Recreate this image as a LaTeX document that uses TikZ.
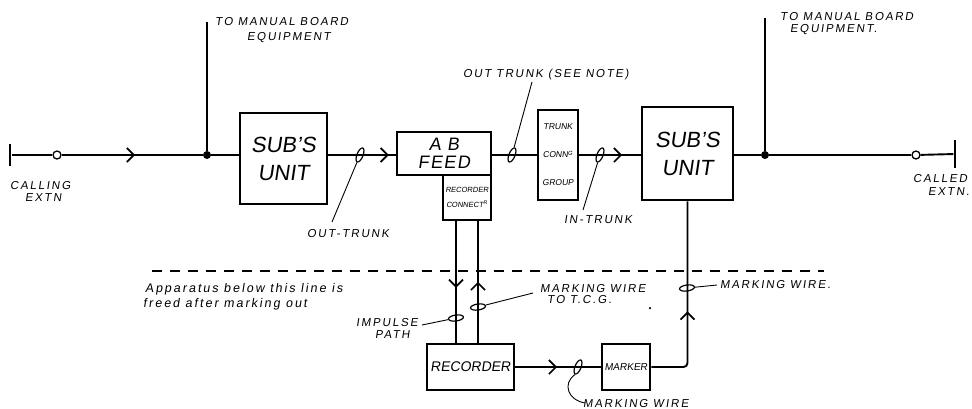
\documentclass[tikz,border=0pt]{standalone}
\usepackage{fontspec}
\setmainfont{Liberation Sans}
\newfontfamily\hand[FakeSlant=0.15]{Liberation Sans}
\newfontfamily\handw[FakeSlant=0.15,LetterSpace=16]{Liberation Sans}
\newfontfamily\handm[FakeSlant=0.15,LetterSpace=8]{Liberation Sans}
\usetikzlibrary{arrows.meta,decorations.markings,shapes.geometric}
\begin{document}
\begin{tikzpicture}[x=1pt,y=-1pt,
  wire/.style={line width=1.9pt},
  thinwire/.style={line width=1.2pt},
  leader/.style={line width=0.9pt},
  box/.style={draw,line width=2.8pt,inner sep=0pt,align=center},
  tick/.style={draw,ellipse,line width=1.2pt,inner sep=0pt,minimum width=6pt,minimum height=15pt,rotate=-22},
  vtick/.style={tick,rotate=-60},
  midarrow/.style={postaction={decorate},decoration={markings,mark=at position #1 with {\arrow{Straight Barb[length=7pt,width=14pt,line width=1.7pt]}}}},
  lbl/.style={anchor=base west,inner sep=0pt,font=\handw\fontsize{11.5}{13}\selectfont},
  dotnode/.style={circle,fill,inner sep=0pt,minimum size=8pt},
  ring/.style={circle,draw,fill=white,line width=1.3pt,inner sep=0pt,minimum size=8pt},
  endbar/.style={fill,inner sep=0pt,minimum width=2.8pt},
]
\useasboundingbox (0,0) rectangle (972,408);

% main line nodes
\node[endbar,minimum height=22pt] (lbar) at (10,155) {};
\node[ring] (lring) at (57,155) {};
\node[dotnode] (j1) at (207,155) {};
\coordinate (t1) at (207,22);
\node[box,minimum width=87pt,minimum height=91pt,font=\hand\fontsize{22}{28}\selectfont] (sub1) at (283.5,158.5) {SUB’S\\UNIT};
\node[box,minimum width=94pt,minimum height=43pt,font=\handm\fontsize{18}{18}\selectfont] (feed) at (444,153.5) {A B\\FEED};
\node[box,line width=2pt,minimum width=48pt,minimum height=45pt,font=\hand\fontsize{7.5}{15}\selectfont] (rconn) at (467,197.5) {RECORDER\\CONNECT\textsuperscript{R}};
\node[box,line width=2.2pt,minimum width=40pt,minimum height=90pt,font=\hand\fontsize{8.5}{28}\selectfont] (tcg) at (558,155) {TRUNK\\CONN\textsuperscript{G}\\GROUP};
\node[box,minimum width=91pt,minimum height=93pt,font=\hand\fontsize{22}{28}\selectfont] (sub2) at (687.5,153.5) {SUB’S\\UNIT};
\node[dotnode] (j2) at (765,155) {};
\coordinate (t2) at (765,18);
\node[ring] (rring) at (916,155) {};
\node[endbar,minimum height=28pt] (rbar) at (955,154) {};

\node[box,minimum width=87pt,minimum height=46pt,font=\hand\fontsize{14}{16}\selectfont] (rec) at (470.5,367) {RECORDER};
\node[box,minimum width=48pt,minimum height=46pt,font=\hand\fontsize{10}{12}\selectfont] (marker) at (626,367) {MARKER};

% main wires
\draw[wire] (lbar) -- (lring);
\draw[wire,midarrow=0.52] (lring) -- (j1);
\draw[wire] (j1) -- (j1 -| sub1.west);
\draw[thinwire] (j1) -- (t1);
\draw[wire,midarrow=0.9] (sub1.east |- j1) -- (feed.west |- j1);
\draw[wire] (feed.east |- j1) -- (tcg.west |- j1);
\draw[wire,midarrow=0.7] (tcg.east |- j1) -- (sub2.west |- j1);
\draw[wire] (sub2.east |- j1) -- (j2);
\draw[thinwire] (j2) -- (t2);
\draw[wire] (j2) -- (rring);
\draw[wire] (rring) -- (rbar);

% lower wires
\draw[wire,midarrow=0.55] ([xshift=-11pt]rconn.south) -- ([xshift=-11pt]rconn.south |- rec.north);
\draw[wire,midarrow=0.5] ([xshift=11pt]rconn.south |- rec.north) -- ([xshift=11pt]rconn.south);
\draw[wire,midarrow=0.49] (rec) -- (marker);
\draw[wire,rounded corners=4pt,midarrow=0.45] (marker.east) -| (sub2.south);

% ticks
\node[tick] (s1) at (360,155) {};
\node[tick] (s2) at (512,155) {};
\node[tick] (s3) at (600,155) {};
\node[vtick] (s4) at (456,318) {};
\node[vtick] (s5) at (478,307) {};
\node[tick] (s6) at (578,367) {};
\node[vtick] (s7) at (687,288) {};

% leader ends
\coordinate (e1) at (332,222);
\coordinate (e2) at (532,82);
\coordinate (e3) at (583,210);
\coordinate (e4) at (422,325);
\coordinate (e5) at (533,293);
\coordinate (e6) at (585,403);
\coordinate (e7) at (717,285);
\draw[leader] (s1) -- (e1);
\draw[leader] (s2) -- (e2);
\draw[leader] (s3) -- (e3);
\draw[leader] (s4) -- (e4);
\draw[leader] (s5) -- (e5);
\draw[leader] (s6.south) .. controls (562,384) and (568,400) .. (e6);
\draw[leader] (s7) -- (e7);

% dashed boundary
\coordinate (dl) at (152,271);
\coordinate (dr) at (824,271);
\draw[line width=1.3pt,dash pattern=on 10pt off 8pt] (dl) -- (dr);
\node[circle,fill,inner sep=0pt,minimum size=2.5pt] (stray) at (650,308) {};

% labels
\node[lbl] (l1a) at (215,25) {TO MANUAL BOARD};
\node[lbl] (l1b) at (247,40) {EQUIPMENT};
\node[lbl] (l2a) at (780,20) {TO MANUAL BOARD};
\node[lbl] (l2b) at (790,32) {EQUIPMENT.};
\node[lbl] (l3) at (463,77) {OUT TRUNK (SEE NOTE)};
\node[lbl] (l4a) at (10,189) {CALLING};
\node[lbl] (l4b) at (25,201) {EXTN};
\node[lbl] (l5a) at (913,182) {CALLED};
\node[lbl] (l5b) at (928,195) {EXTN.};
\node[lbl] (l6) at (307,237) {OUT-TRUNK};
\node[lbl] (l7) at (564,223) {IN-TRUNK};
\node[lbl,font=\handw\fontsize{12.5}{15}\selectfont] (l8a) at (145,292) {Apparatus below this line is};
\node[lbl,font=\handw\fontsize{12.5}{15}\selectfont] (l8b) at (143,307) {freed after marking out};
\node[lbl] (l9a) at (356,326) {IMPULSE};
\node[lbl] (l9b) at (375,338) {PATH};
\node[lbl] (l10a) at (540,292) {MARKING WIRE};
\node[lbl] (l10b) at (547,303) {TO T.C.G.};
\node[lbl] (l11) at (720,288) {MARKING WIRE.};
\node[lbl] (l12) at (583,407) {MARKING WIRE};
\end{tikzpicture}
\end{document}
